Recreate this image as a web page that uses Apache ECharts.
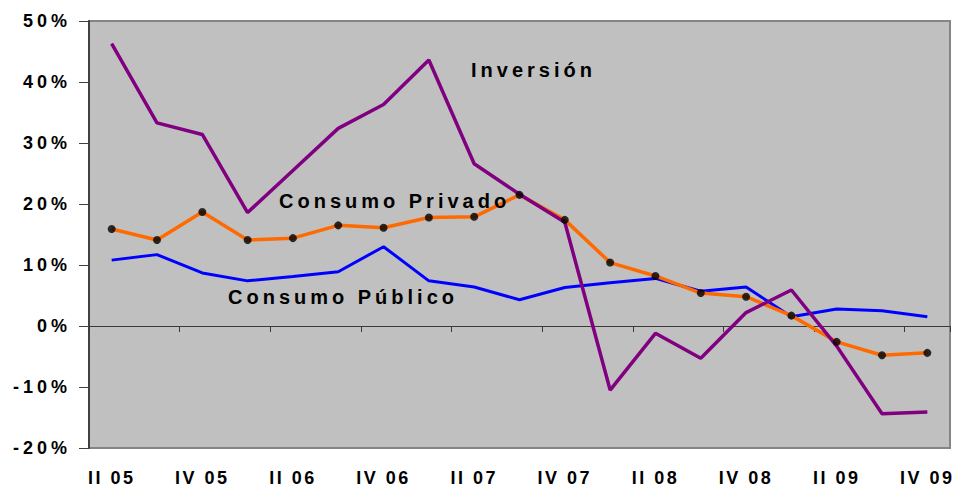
<!DOCTYPE html>
<html>
<head>
<meta charset="utf-8">
<script src="https://cdn.jsdelivr.net/npm/echarts@6/dist/echarts.min.js"></script>
<style>
  html, body { margin: 0; padding: 0; background: #ffffff; }
  #main { width: 956px; height: 487px; }
  #main text { letter-spacing: 4px; }
  #main text[text-anchor="middle"] { letter-spacing: 2.5px; }
</style>
</head>
<body>
<div id="main"></div>
<script>
// Quarters (II 2005 .. IV 2009)
const categories = ['II 05','III 05','IV 05','I 06','II 06','III 06','IV 06','I 07','II 07','III 07',
                    'IV 07','I 08','II 08','III 08','IV 08','I 09','II 09','III 09','IV 09'];
// Year-on-year growth, %
const inversion       = [46.3, 33.3, 31.4, 18.6, 25.5, 32.4, 36.3, 43.6, 26.6, 21.6, 17.0, -10.5, -1.2, -5.3, 2.2, 5.9, -3.3, -14.4, -14.1];
const consumoPrivado  = [15.9, 14.1, 18.7, 14.1, 14.4, 16.5, 16.1, 17.8, 17.9, 21.5, 17.4, 10.4, 8.2, 5.4, 4.8, 1.7, -2.6, -4.8, -4.4];
const consumoPublico  = [10.8, 11.7, 8.7, 7.4, 8.1, 8.9, 13.0, 7.4, 6.4, 4.3, 6.3, 7.1, 7.8, 5.7, 6.4, 1.5, 2.8, 2.5, 1.5];
// Y-axis ticks
const yMin = -20, yMax = 50, yStep = 10;
// Series names shown as annotations
const labelInversion = 'Inversión';
const labelPrivado = 'Consumo Privado';
const labelPublico = 'Consumo Público';

const chart = echarts.init(document.getElementById('main'), null, { renderer: 'svg' });
const FONT = '"Liberation Sans", Arial, Helvetica, sans-serif';

chart.setOption({
  animation: false,
  backgroundColor: '#ffffff',
  grid: {
    left: 89, right: 6, top: 21, bottom: 39,
    show: true, backgroundColor: '#C0C0C0', borderColor: '#858585', borderWidth: 2
  },
  xAxis: [
    {
      type: 'category', data: categories, boundaryGap: true,
      axisLine: { onZero: true, lineStyle: { color: '#3a3a3a', width: 1 } },
      axisTick: { show: true, interval: 1, length: 6, lineStyle: { color: '#3a3a3a', width: 1 } },
      axisLabel: { show: false },
      splitLine: { show: false }
    },
    {
      type: 'category', data: categories, boundaryGap: true, position: 'bottom',
      axisLine: { show: false, onZero: false },
      axisTick: { show: false },
      axisLabel: {
        interval: 1, margin: 21, color: '#000',
        fontFamily: FONT, fontWeight: 'bold', fontSize: 18
      },
      splitLine: { show: false }
    }
  ],
  yAxis: {
    type: 'value', min: yMin, max: yMax, interval: yStep,
    axisLine: { show: true, lineStyle: { color: '#404040', width: 2 } },
    axisTick: { show: true, length: 10, lineStyle: { color: '#404040', width: 1 } },
    axisLabel: {
      formatter: '{value}%', margin: 18, color: '#000',
      fontFamily: FONT, fontWeight: 'bold', fontSize: 18
    },
    splitLine: { show: false }
  },
  series: [
    {
      name: labelPublico, type: 'line', data: consumoPublico, xAxisIndex: 0,
      symbol: 'none', lineStyle: { color: '#0000FF', width: 3 }, z: 2
    },
    {
      name: labelPrivado, type: 'line', data: consumoPrivado, xAxisIndex: 0,
      symbol: 'none', lineStyle: { color: '#FF6A00', width: 3.5 }, z: 3
    },
    {
      name: labelInversion, type: 'line', data: inversion, xAxisIndex: 0,
      symbol: 'none', lineStyle: { color: '#800080', width: 3.5 }, z: 4
    },
    {
      name: labelPrivado + ' (puntos)', type: 'scatter', data: consumoPrivado, xAxisIndex: 0,
      symbol: 'circle', symbolSize: 8, itemStyle: { color: '#000' }, z: 5
    }
  ],
  graphic: [
    { type: 'text', x: 471, y: 70, z: 10,
      style: { text: labelInversion, fill: '#000', font: 'bold 20px ' + FONT, verticalAlign: 'middle' } },
    { type: 'text', x: 279, y: 201, z: 10,
      style: { text: labelPrivado, fill: '#000', font: 'bold 20px ' + FONT, verticalAlign: 'middle' } },
    { type: 'text', x: 228, y: 297, z: 10,
      style: { text: labelPublico, fill: '#000', font: 'bold 20px ' + FONT, verticalAlign: 'middle' } }
  ]
});
</script>
</body>
</html>
